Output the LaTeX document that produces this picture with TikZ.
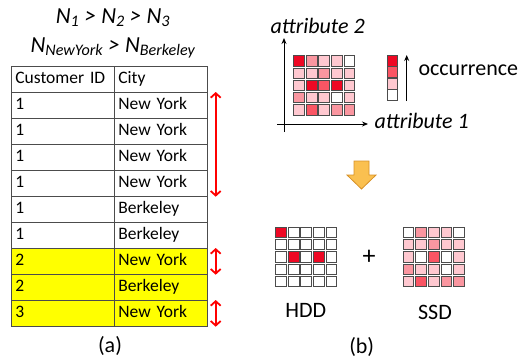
\documentclass[tikz,border=0pt]{standalone}
\usepackage{fontspec}
\setmainfont{Carlito}
\usetikzlibrary{arrows.meta}

% shades for the occurrence counts, 0 = never seen, 4 = most frequent
\definecolor{heat0}{RGB}{255,255,255}
\definecolor{heat1}{RGB}{255,200,208}
\definecolor{heat2}{RGB}{250,150,160}
\definecolor{heat3}{RGB}{250,85,100}
\definecolor{heat4}{RGB}{238,8,36}
\definecolor{hilite}{RGB}{255,255,0}
\definecolor{gold}{RGB}{250,192,80}
\definecolor{golddark}{RGB}{215,145,40}

\tikzset{
  idcell/.style={draw=black!70, line width=0.7pt, text width=95pt, inner xsep=4pt, inner ysep=0pt,
                 minimum height=26pt, text height=12pt, text depth=4pt, align=left, anchor=north west,
                 font=\fontsize{17.5}{20}\selectfont},
  citycell/.style={idcell, text width=85pt},
  span/.style={red, line width=1.8pt, {Straight Barb[length=4.5pt,width=10pt]}-{Straight Barb[length=4.5pt,width=10pt]}},
  axis/.style={line width=0.9pt, -{Stealth[length=6pt,width=5pt]}},
  heat/.style={draw=black!70, line width=0.9pt, minimum width=10.7pt, minimum height=10.3pt, inner sep=0pt},
  keycell/.style={heat, minimum height=10.6pt},
  bigtext/.style={font=\fontsize{22}{26}\selectfont},
  slanted/.style={font=\fontsize{22}{26}\selectfont\itshape},
}

% 5x5 block of cells: name, x and y of the first centre, rows of levels
\newcommand{\heatmap}[4]{%
  \foreach \row [count=\j] in {#4}{
    \foreach \v [count=\i] in \row{
      \node[heat, fill=heat\v] (#1-\j-\i) at ({#2+12.6*(\i-1)},{#3+12.2*(\j-1)}) {};
    }
  }
}

\begin{document}
\begin{tikzpicture}[x=1pt, y=-1pt]
  \useasboundingbox (0,0) rectangle (524,360);

  % (a) the table
  \node[font=\fontsize{23}{26}\selectfont\itshape, anchor=base] (order-id) at (113,23)
    {N\textsubscript{1} > N\textsubscript{2} > N\textsubscript{3}};
  \node[font=\fontsize{23}{26}\selectfont\itshape, anchor=base] (order-city) at (113,52)
    {N\textsubscript{NewYork} > N\textsubscript{Berkeley}};

  \node[idcell] (head-id) at (11,66) {Customer ID};
  \node[citycell] (head-city) at (114,66) {City};
  \foreach \id/\city/\shade [count=\r] in {1/New York/white, 1/New York/white, 1/New York/white,
      1/New York/white, 1/Berkeley/white, 1/Berkeley/white, 2/New York/hilite, 2/Berkeley/hilite,
      3/New York/hilite}{
    \node[idcell, fill=\shade] (id-\r) at (11,{66+26*\r}) {\id};
    \node[citycell, fill=\shade] (city-\r) at (114,{66+26*\r}) {\city};
  }

  \draw[span] ([xshift=8pt]city-1.north east) -- ([xshift=8pt]city-4.south east);
  \draw[span] ([xshift=8pt]city-7.north east) -- ([xshift=8pt]city-7.south east);
  \draw[span] ([xshift=8pt]city-9.north east) -- ([xshift=8pt]city-9.south east);

  \node[bigtext] (cap-a) at (110,346) {(a)};

  % (b) occurrence map over two attributes
  \coordinate (ax-left) at (277,124);
  \coordinate (ax-right) at (368,124);
  \coordinate (ax-bottom) at (284,132);
  \coordinate (ax-top) at (284,38);
  \draw[axis] (ax-left) -- (ax-right);
  \draw[axis] (ax-bottom) -- (ax-top);
  \node[slanted, anchor=base west] (attr-2) at (267,33) {attribute 2};
  \node[slanted, anchor=base west] (attr-1) at (371,128) {attribute 1};

  \heatmap{all}{299}{61}{{4,2,1,1,0},{1,1,2,1,1},{1,4,3,4,1},{2,1,1,0,1},{1,3,1,2,2}}

  % legend column, cells stacked without gaps
  \foreach \v [count=\k] in {4,3,1,0}{
    \node[keycell, fill=heat\v] (key-\k) at (392.3,{60.7+11.5*(\k-1)}) {};
  }
  \coordinate (occ-low) at (406.7,101);
  \coordinate (occ-high) at (406.7,55);
  \draw[axis] (occ-low) -- (occ-high);
  \node[bigtext, anchor=base west] (occ) at (415,75) {occurrence};

  % split arrow
  \filldraw[fill=gold, draw=golddark, line width=0.8pt]
    (354,161) -- (369,161) -- (369,175) -- (376,175) -- (361.5,189) -- (347,175) -- (354,175) -- cycle;

  \heatmap{hdd}{281}{232.5}{{4,0,0,0,0},{0,0,0,0,0},{0,4,0,4,0},{0,0,0,0,0},{0,0,0,0,0}}
  \heatmap{ssd}{408.5}{232.5}{{0,2,1,1,0},{1,1,2,1,1},{1,0,3,0,1},{2,1,1,0,1},{1,3,1,2,2}}

  \node[font=\fontsize{26}{28}\selectfont] (plus) at (369,257) {+};
  \node[bigtext] (hdd) at (305.7,310) {HDD};
  \node[bigtext] (ssd) at (435,312) {SSD};
  \node[bigtext] (cap-b) at (361.7,347) {(b)};
\end{tikzpicture}
\end{document}
